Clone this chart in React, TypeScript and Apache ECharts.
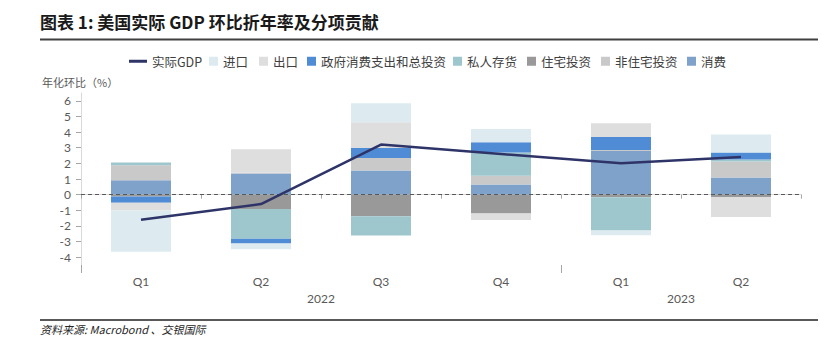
import React, { useEffect, useRef } from "react";
import * as echarts from "echarts";

const quarters = ["Q1", "Q2", "Q3", "Q4", "Q1", "Q2"];
const years = ["2022", "2023"];
const yearSpans = [4, 2];
const yTicks = [-4, -3, -2, -1, 0, 1, 2, 3, 4, 5, 6];

const gdp = [-1.6, -0.6, 3.2, 2.6, 2.0, 2.4];
const consumption = [0.92, 1.35, 1.54, 0.65, 2.79, 1.1];
const nonResInv = [0.96, 0.05, 0.81, 0.55, 0.06, 1.02];
const resInv = [-0.12, -0.92, -1.39, -1.2, -0.17, -0.15];
const inventories = [0.17, -1.9, -1.22, 1.5, -2.12, 0.12];
const government = [-0.4, -0.3, 0.64, 0.65, 0.84, 0.45];
const exportsC = [-0.5, 1.5, 1.64, -0.43, 0.88, -1.28];
const importsC = [-2.63, -0.37, 1.22, 0.85, -0.3, 1.16];

const CJK = "'Noto Sans CJK SC', 'Noto Sans', sans-serif";
const NUM = "Lato, 'Noto Sans', sans-serif";

export default function App() {
  const ref = useRef<HTMLDivElement>(null);
  useEffect(() => {
    document.body.style.margin = "0";
    const chart = echarts.init(ref.current!, null, { renderer: "svg" });

    const yearBounds: number[] = [0];
    const yearCenters: number[] = [];
    let acc = 0;
    yearSpans.forEach((s) => {
      yearCenters.push(acc + s / 2);
      acc += s;
      yearBounds.push(acc);
    });

    const barSeries = [
      { name: "消费", data: consumption, color: "#7FA2CA" },
      { name: "非住宅投资", data: nonResInv, color: "#C9C9C9" },
      { name: "住宅投资", data: resInv, color: "#999999" },
      { name: "私人存货", data: inventories, color: "#9EC7CD" },
      { name: "政府消费支出和总投资", data: government, color: "#508CD5" },
      { name: "出口", data: exportsC, color: "#DEDEDE" },
      { name: "进口", data: importsC, color: "#DDEBF0" },
    ].map((s) => ({
      name: s.name,
      type: "bar",
      stack: "contrib",
      barWidth: "50%",
      data: s.data,
      itemStyle: { color: s.color },
      emphasis: { disabled: true },
    }));

    const legendItems = [
      { name: "实际GDP", left: 129, line: true },
      { name: "进口", left: 209 },
      { name: "出口", left: 259 },
      { name: "政府消费支出和总投资", left: 307 },
      { name: "私人存货", left: 453 },
      { name: "住宅投资", left: 527 },
      { name: "非住宅投资", left: 601 },
      { name: "消费", left: 687 },
    ];

    chart.setOption({
      animation: false,
      backgroundColor: "#ffffff",
      grid: { left: 81, right: 28, top: 93, bottom: 83, containLabel: false },
      legend: legendItems.map((l) => ({
        left: l.left,
        top: 55,
        padding: 0,
        selectedMode: false,
        itemWidth: l.line ? 18 : 9,
        itemHeight: l.line ? 3 : 9,
        icon: "rect",
        textStyle: { fontFamily: CJK, fontSize: 12.5, color: "#404040" },
        data: [l.name],
      })),
      xAxis: [
        {
          type: "category",
          data: quarters,
          boundaryGap: true,
          axisLine: { lineStyle: { color: "#D9D9D9", width: 1 } },
          axisTick: { show: true, interval: 0, length: 4, lineStyle: { color: "#A6A6A6" } },
          axisLabel: { color: "#595959", fontSize: 12, fontFamily: NUM, margin: 10 },
          splitLine: { show: false },
        },
        {
          type: "value",
          position: "bottom",
          min: 0,
          max: yearBounds[yearBounds.length - 1],
          axisLine: { show: false },
          axisTick: {
            show: true,
            length: 8,
            customValues: yearBounds.slice(0, -1),
            lineStyle: { color: "#A6A6A6" },
          },
          axisLabel: {
            show: true,
            customValues: yearCenters,
            formatter: (v: number) => {
              const i = yearCenters.indexOf(v);
              return i >= 0 ? years[i] : "";
            },
            color: "#595959",
            fontSize: 12,
            fontFamily: NUM,
            margin: 27,
          },
          splitLine: { show: false },
        },
      ],
      yAxis: {
        type: "value",
        min: -4.5,
        max: 6.5,
        axisLine: { show: true, lineStyle: { color: "#D9D9D9" } },
        axisTick: {
          show: true,
          length: 5,
          customValues: yTicks,
          lineStyle: { color: "#A6A6A6" },
        },
        axisLabel: {
          customValues: yTicks,
          color: "#595959",
          fontSize: 12,
          fontFamily: NUM,
          margin: 10,
        },
        splitLine: { show: false },
      },
      series: [
        ...barSeries,
        {
          name: "实际GDP",
          type: "line",
          data: gdp,
          symbol: "none",
          z: 5,
          lineStyle: { color: "#2E3468", width: 2.5 },
          itemStyle: { color: "#2E3468" },
          emphasis: { disabled: true },
          markLine: {
            silent: true,
            symbol: "none",
            label: { show: false },
            lineStyle: { color: "#595959", type: [4, 3], width: 1.2 },
            data: [{ yAxis: 0 }],
          },
        },
      ],
      graphic: [
        {
          type: "text",
          left: 40,
          top: 13,
          style: {
            text: "图表 1: 美国实际 GDP 环比折年率及分项贡献",
            fontFamily: CJK,
            fontWeight: "bold",
            fontSize: 17,
            fill: "#1a1a1a",
          },
        },
        {
          type: "line",
          shape: { x1: 40, y1: 39.5, x2: 818, y2: 39.5 },
          style: { stroke: "#404040", lineWidth: 2 },
        },
        {
          type: "text",
          left: 42,
          top: 76,
          style: {
            text: "年化环比（%）",
            fontFamily: CJK,
            fontSize: 11,
            fill: "#595959",
          },
        },
        {
          type: "line",
          shape: { x1: 40, y1: 320, x2: 818, y2: 320 },
          style: { stroke: "#595959", lineWidth: 2 },
        },
        {
          type: "text",
          left: 40,
          top: 323,
          style: {
            text: "资料来源: Macrobond 、交银国际",
            fontFamily: CJK,
            fontStyle: "italic",
            fontSize: 11,
            fill: "#262626",
          },
        },
      ],
    });
    return () => chart.dispose();
  }, []);
  return <div ref={ref} style={{ width: 829, height: 348 }} />;
}
